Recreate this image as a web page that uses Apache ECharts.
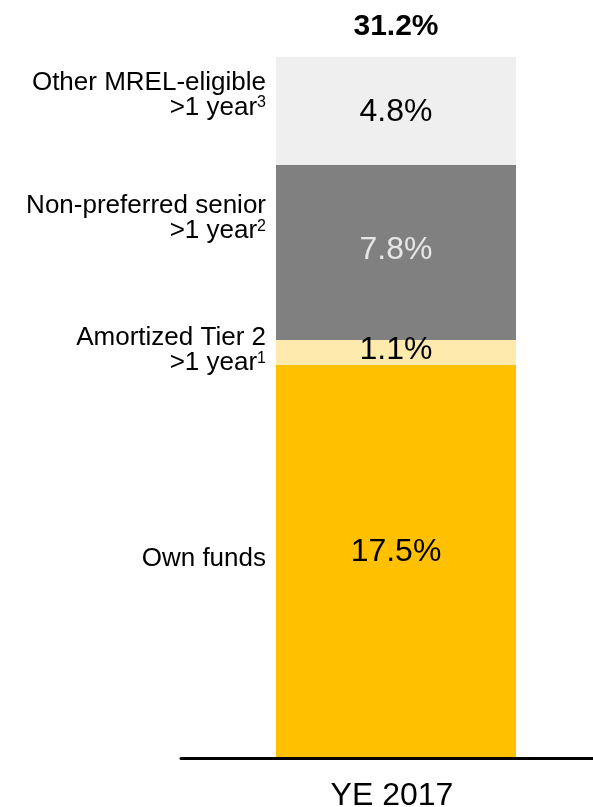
<!DOCTYPE html>
<html><head><meta charset="utf-8">
<script src="https://cdn.jsdelivr.net/npm/echarts@6/dist/echarts.min.js"></script>
<style>html,body{margin:0;padding:0;background:#fff}#c{width:593px;height:807px}</style>
</head><body><div id="c"></div>
<script>
const categories = ['YE 2017'];
const seriesNames = ['Own funds', 'Amortized Tier 2 >1 year', 'Non-preferred senior >1 year', 'Other MREL-eligible >1 year'];
const labelLines = [['Own funds'], ['Amortized Tier 2', '>1 year'], ['Non-preferred senior', '>1 year'], ['Other MREL-eligible', '>1 year']];
const footnotes = ['', '1', '2', '3'];
const values = [17.5, 1.1, 7.8, 4.8];
const colors = ['#ffc000', '#ffeaae', '#808080', '#efefef'];
const valueLabelColors = ['#000', '#000', '#e6e6e6', '#000'];
const valueOffsets = [[0, -9], [0, -2], [0, -2], [0, 1]];
const nameOffsets = [[0, -3], [0, -2], [0, -34], [0, -16]];

const total = Math.round(values.reduce((a, b) => a + b, 0) * 10) / 10;
const FONT = '"Liberation Sans", Arial, sans-serif';

const series = [];
values.forEach((v, i) => {
  series.push({
    name: seriesNames[i], type: 'bar', stack: 'a', xAxisIndex: 0, yAxisIndex: 0, barWidth: 240,
    data: [v], itemStyle: { color: colors[i] },
    label: { show: true, position: 'inside', offset: valueOffsets[i], formatter: v.toFixed(1) + '%', color: valueLabelColors[i], fontSize: 32, fontFamily: FONT }
  });
});
values.forEach((v, i) => {
  const lines = labelLines[i];
  let fmt = lines.map((l, k) => '{t|' + l + '}' + (k === lines.length - 1 && footnotes[i] ? '{s|' + footnotes[i] + '}' : '')).join('\n');
  series.push({
    name: seriesNames[i] + ' label', type: 'bar', stack: 'b', xAxisIndex: 1, yAxisIndex: 0, barWidth: 240,
    data: [v], itemStyle: { color: 'rgba(0,0,0,0)' }, silent: true,
    label: { show: true, position: 'left', distance: 10, offset: nameOffsets[i], formatter: fmt, align: 'right',
      rich: { t: { fontSize: 26, fontFamily: FONT, color: '#000', lineHeight: 25 },
              s: { fontSize: 16, fontFamily: FONT, color: '#000', lineHeight: 25, verticalAlign: 'top' } } }
  });
});
series.push({
  type: 'scatter', xAxisIndex: 0, yAxisIndex: 0, data: [total], symbolSize: 0,
  itemStyle: { opacity: 1 },
  label: { show: true, position: 'top', distance: 15, formatter: total.toFixed(1) + '%', fontSize: 30, fontWeight: 'bold', color: '#000', opacity: 1, fontFamily: FONT }
});

const chart = echarts.init(document.getElementById('c'));
chart.setOption({
  animation: false,
  grid: [
    { left: 199, right: 0, top: 57, bottom: 49, containLabel: false, outerBoundsMode: 'none' },
    { left: 181, right: 0, top: 57, bottom: 49, containLabel: false, outerBoundsMode: 'none' }
  ],
  xAxis: [
    { type: 'category', gridIndex: 0, data: categories, axisLine: { show: false }, axisTick: { show: false },
      axisLabel: { fontSize: 32, color: '#000', fontFamily: FONT, margin: 22, padding: [0, 8, 0, 0] } },
    { type: 'category', gridIndex: 0, data: categories, show: false },
    { type: 'category', gridIndex: 1, data: categories, axisLine: { lineStyle: { color: '#000', width: 3 } }, axisTick: { show: false },
      axisLabel: { show: false }, z: 5 }
  ],
  yAxis: [
    { type: 'value', gridIndex: 0, min: 0, max: total, show: false, splitLine: { show: false } },
    { type: 'value', gridIndex: 1, min: 0, max: total, show: false, splitLine: { show: false } }
  ],
  series: series
});
</script></body></html>
